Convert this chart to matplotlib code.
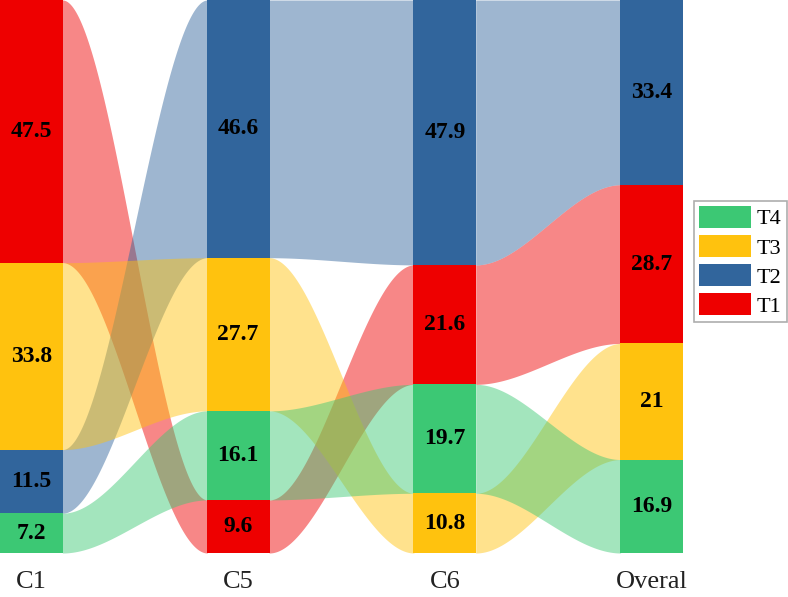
import numpy as np
import matplotlib
matplotlib.use("Agg")
import matplotlib.pyplot as plt
from matplotlib.patches import Patch

columns = ["C1", "C5", "C6", "Overal"]
categories = ["T1", "T2", "T3", "T4"]
values = {
    "T1": [47.5, 9.6, 21.6, 28.7],
    "T2": [11.5, 46.6, 47.9, 33.4],
    "T3": [33.8, 27.7, 10.8, 21.0],
    "T4": [7.2, 16.1, 19.7, 16.9],
}
colors = {"T1": "#EE0000", "T2": "#31659C", "T3": "#FFC20E", "T4": "#3CC874"}
legend_order = ["T4", "T3", "T2", "T1"]

plt.rcParams['font.family'] = ['Liberation Serif', 'DejaVu Serif']

fig = plt.figure(figsize=(7.88, 5.97), dpi=100)
ax = fig.add_axes([0.0, 1 - 553 / 597, 683 / 788, 553 / 597])

bw = 0.305
ncol = len(columns)
# compute segment extents (largest on top)
seg = {c: [None] * ncol for c in categories}
for j in range(ncol):
    order = sorted(categories, key=lambda c: -values[c][j])
    top = 100.0
    for c in order:
        v = values[c][j]
        seg[c][j] = (top - v, top)
        top -= v

def smooth(s):
    return 3 * s ** 2 - 2 * s ** 3

ribbon_order = ["T1", "T2", "T3", "T4"]
for j in range(ncol - 1):
    x0 = j + bw / 2 - 0.003
    x1 = j + 1 - bw / 2 + 0.003
    xs = np.linspace(x0, x1, 200)
    s = smooth((xs - x0) / (x1 - x0))
    for c in ribbon_order:
        (b0, t0), (b1, t1) = seg[c][j], seg[c][j + 1]
        lo = b0 + (b1 - b0) * s
        hi = t0 + (t1 - t0) * s
        ax.fill_between(xs, lo, hi, color=colors[c], alpha=0.47, linewidth=0)

# bars
for j in range(ncol):
    for c in categories:
        b, t = seg[c][j]
        ax.bar(j, t - b, bottom=b, width=bw, color=colors[c], linewidth=0, zorder=3)
        v = values[c][j]
        ax.text(j, (b + t) / 2, f"{v:g}", ha='center', va='center', fontsize=17,
                fontweight='bold', color='black', zorder=4)

ax.set_xlim(-bw / 2, ncol - 1 + bw / 2)
ax.set_ylim(0, 100)
ax.set_xticks(range(ncol))
ax.set_xticklabels(columns, fontsize=19, color='#222222')
ax.tick_params(axis='x', length=0, pad=13)
ax.set_yticks([])
for sp in ax.spines.values():
    sp.set_visible(False)

handles = [Patch(facecolor=colors[c], edgecolor='none', label=c) for c in legend_order]
leg = fig.legend(handles=handles, loc='upper left', bbox_to_anchor=(694 / 788, 1 - 201 / 597),
                 bbox_transform=fig.transFigure, borderaxespad=0, fontsize=16,
                 handlelength=2.34, handleheight=1.13, handletextpad=0.27,
                 labelspacing=0.26, borderpad=0.22, fancybox=False, frameon=True)
leg.get_frame().set_edgecolor('#999999')
leg.get_frame().set_linewidth(1.2)

fig.savefig("out.png", dpi=100)
